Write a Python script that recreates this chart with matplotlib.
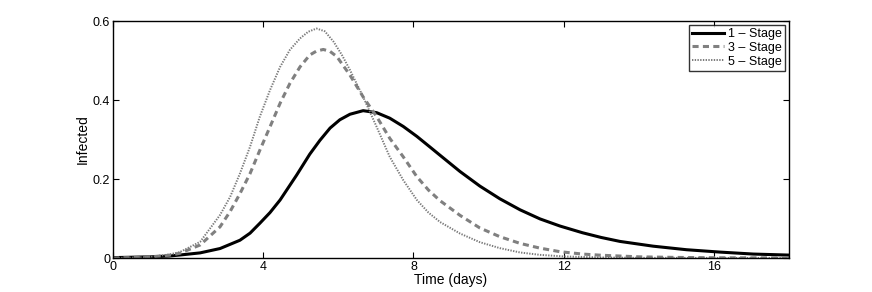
"""
Infected fraction over time for 1, 3 and 5 stage models
"""

import matplotlib
matplotlib.use('Agg')
import matplotlib.pyplot as plt

plt.rcParams['font.family'] = ['Liberation Sans', 'DejaVu Sans']

# values (time in days, infected fraction)
t_one = [0, 0.5, 1.0, 1.5, 1.78, 2.32, 2.85, 3.38, 3.65, 3.91, 4.18, 4.45,
         4.89, 5.24, 5.51, 5.78, 6.04, 6.31, 6.66, 7.02, 7.37, 7.73, 8.09,
         8.44, 8.71, 9.24, 9.77, 10.3, 10.84, 11.37, 11.9, 12.5, 13.0, 13.5,
         14.38, 15.27, 16.16, 17.05, 18.0]
one_stage = [0.001, 0.002, 0.003, 0.005, 0.0076, 0.013, 0.024, 0.045, 0.063,
             0.088, 0.115, 0.147, 0.21, 0.263, 0.298, 0.329, 0.350, 0.364,
             0.373, 0.368, 0.354, 0.333, 0.308, 0.281, 0.260, 0.219, 0.182,
             0.150, 0.122, 0.099, 0.081, 0.064, 0.052, 0.042, 0.030, 0.021,
             0.015, 0.010, 0.0074]

t_three = [0, 0.5, 1.0, 1.5, 1.78, 2.32, 2.85, 3.12, 3.38, 3.65, 3.91, 4.18,
           4.45, 4.71, 4.98, 5.24, 5.42, 5.6, 5.78, 5.96, 6.31, 6.66, 7.02,
           7.37, 7.73, 8.09, 8.4, 8.71, 9.24, 9.77, 10.3, 10.84, 11.37, 11.9,
           12.5, 13.0, 14.0, 15.0, 16.0, 18.0]
three_stage = [0.0, 0.001, 0.003, 0.007, 0.012, 0.033, 0.079, 0.118, 0.163,
               0.214, 0.273, 0.332, 0.392, 0.442, 0.484, 0.514, 0.524, 0.528,
               0.523, 0.51, 0.463, 0.408, 0.358, 0.303, 0.256, 0.206, 0.172,
               0.145, 0.108, 0.076, 0.054, 0.037, 0.025, 0.016, 0.010, 0.007,
               0.003, 0.0015, 0.0007, 0.0002]

t_five = [0, 0.5, 1.0, 1.5, 1.78, 2.32, 2.85, 3.12, 3.38, 3.65, 3.91, 4.18,
          4.45, 4.71, 4.98, 5.2, 5.42, 5.64, 5.87, 6.09, 6.31, 6.66, 7.02,
          7.37, 7.73, 8.09, 8.4, 8.71, 9.24, 9.77, 10.3, 10.84, 11.37, 12.0,
          13.0, 14.0, 18.0]
five_stage = [0.0, 0.001, 0.003, 0.009, 0.015, 0.041, 0.109, 0.155, 0.214,
              0.282, 0.358, 0.425, 0.484, 0.527, 0.556, 0.573, 0.581, 0.574,
              0.548, 0.515, 0.476, 0.408, 0.332, 0.256, 0.197, 0.147, 0.115,
              0.091, 0.062, 0.040, 0.025, 0.014, 0.008, 0.004, 0.0015, 0.0005,
              0.0]

x_ticks = [0, 4, 8, 12, 16]
y_ticks = [0, 0.2, 0.4, 0.6]
y_labels = ['0', '0.2', '0.4', '0.6']

fig = plt.figure(figsize=(8.72, 2.92), dpi=100)
ax = fig.add_axes([0.1296, 0.1164, 0.7752, 0.8116])

ax.plot(t_one, one_stage, color='black', lw=2.2, label='1 \u2013 Stage')
ax.plot(t_three, three_stage, color='#808080', lw=2.2, ls=(0, (2.0, 1.4)),
        label='3 \u2013 Stage')
ax.plot(t_five, five_stage, color='#7a7a7a', lw=1.4, ls=(0, (0.7, 0.7)),
        label='5 \u2013 Stage')

ax.set_xlim(0, 18)
ax.set_ylim(0, 0.6)
ax.set_xticks(x_ticks)
ax.set_yticks(y_ticks)
ax.set_yticklabels(y_labels)
ax.tick_params(direction='in', top=True, right=True, length=4, width=0.8,
               labelsize=9, pad=2)
for s in ax.spines.values():
    s.set_linewidth(1.0)

ax.set_xlabel('Time (days)', fontsize=10, labelpad=0)
ax.set_ylabel('Infected', fontsize=10, labelpad=2)

leg = ax.legend(loc='upper right', fontsize=9, frameon=True, fancybox=False,
                edgecolor='black', borderaxespad=0.3, handlelength=2.6,
                handletextpad=0.3, labelspacing=0.15, borderpad=0.25)
leg.get_frame().set_linewidth(1.0)

fig.savefig('out.png', dpi=100)
